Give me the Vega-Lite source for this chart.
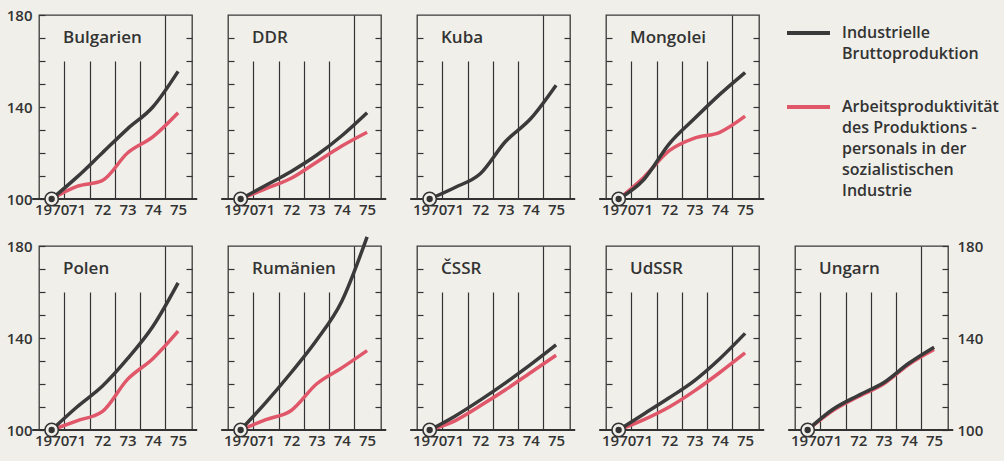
{
"$schema": "https://vega.github.io/schema/vega-lite/v6.json",
"background": "#f0efea",
"padding": {"left": 5, "top": 7, "right": 10, "bottom": 15},
"bounds": "flush",
"columns": 5,
"spacing": {"row": 47, "column": 36},
"datasets": {
"d": [
{"country":"Bulgarien","year":1970,"brutto":100,"arbeit":100},
{"country":"Bulgarien","year":1971,"brutto":109.5,"arbeit":105.5},
{"country":"Bulgarien","year":1972,"brutto":120,"arbeit":108},
{"country":"Bulgarien","year":1973,"brutto":130.5,"arbeit":120},
{"country":"Bulgarien","year":1974,"brutto":140,"arbeit":127},
{"country":"Bulgarien","year":1975,"brutto":155.5,"arbeit":137.5},
{"country":"DDR","year":1970,"brutto":100,"arbeit":100},
{"country":"DDR","year":1971,"brutto":106,"arbeit":104.5},
{"country":"DDR","year":1972,"brutto":112,"arbeit":109},
{"country":"DDR","year":1973,"brutto":119,"arbeit":116},
{"country":"DDR","year":1974,"brutto":127.5,"arbeit":123},
{"country":"DDR","year":1975,"brutto":137.5,"arbeit":129},
{"country":"Kuba","year":1970,"brutto":100,"arbeit":null},
{"country":"Kuba","year":1971,"brutto":105,"arbeit":null},
{"country":"Kuba","year":1972,"brutto":111,"arbeit":null},
{"country":"Kuba","year":1973,"brutto":125,"arbeit":null},
{"country":"Kuba","year":1974,"brutto":135,"arbeit":null},
{"country":"Kuba","year":1975,"brutto":149.5,"arbeit":null},
{"country":"Mongolei","year":1970,"brutto":100,"arbeit":100},
{"country":"Mongolei","year":1971,"brutto":108.5,"arbeit":109.5},
{"country":"Mongolei","year":1972,"brutto":124,"arbeit":121},
{"country":"Mongolei","year":1973,"brutto":135,"arbeit":126.5},
{"country":"Mongolei","year":1974,"brutto":145.5,"arbeit":129},
{"country":"Mongolei","year":1975,"brutto":155,"arbeit":136},
{"country":"Polen","year":1970,"brutto":100,"arbeit":100},
{"country":"Polen","year":1971,"brutto":110,"arbeit":104},
{"country":"Polen","year":1972,"brutto":119,"arbeit":108},
{"country":"Polen","year":1973,"brutto":131,"arbeit":122},
{"country":"Polen","year":1974,"brutto":145,"arbeit":131},
{"country":"Polen","year":1975,"brutto":164,"arbeit":143},
{"country":"Rumänien","year":1970,"brutto":100,"arbeit":100},
{"country":"Rumänien","year":1971,"brutto":112,"arbeit":104.5},
{"country":"Rumänien","year":1972,"brutto":125,"arbeit":108.5},
{"country":"Rumänien","year":1973,"brutto":139,"arbeit":120},
{"country":"Rumänien","year":1974,"brutto":156,"arbeit":127},
{"country":"Rumänien","year":1975,"brutto":184,"arbeit":134.5},
{"country":"ČSSR","year":1970,"brutto":100,"arbeit":100},
{"country":"ČSSR","year":1971,"brutto":106,"arbeit":104},
{"country":"ČSSR","year":1972,"brutto":113,"arbeit":110.5},
{"country":"ČSSR","year":1973,"brutto":120.5,"arbeit":117.5},
{"country":"ČSSR","year":1974,"brutto":128.5,"arbeit":125},
{"country":"ČSSR","year":1975,"brutto":137,"arbeit":132.5},
{"country":"UdSSR","year":1970,"brutto":100,"arbeit":100},
{"country":"UdSSR","year":1971,"brutto":107,"arbeit":104.5},
{"country":"UdSSR","year":1972,"brutto":114,"arbeit":110},
{"country":"UdSSR","year":1973,"brutto":121.5,"arbeit":117},
{"country":"UdSSR","year":1974,"brutto":131,"arbeit":125},
{"country":"UdSSR","year":1975,"brutto":142,"arbeit":133.5},
{"country":"Ungarn","year":1970,"brutto":100,"arbeit":100},
{"country":"Ungarn","year":1971,"brutto":109,"arbeit":108.5},
{"country":"Ungarn","year":1972,"brutto":115,"arbeit":114.5},
{"country":"Ungarn","year":1973,"brutto":120.5,"arbeit":120},
{"country":"Ungarn","year":1974,"brutto":129,"arbeit":128.5},
{"country":"Ungarn","year":1975,"brutto":136,"arbeit":135}
]
},
"data": {"name": "d"},
"concat": [
{"width":153,"height":184,"transform":[{"filter":{"field":"country","equal":"Bulgarien"}}],"layer":[
{"mark":{"type":"rule","color":"#333","strokeWidth":1.3},"encoding":{"x":{"datum":1969.25,"type":"quantitative","scale":{"domain":[1969.5,1975.55],"nice":false,"zero":false},"axis":{"orient":"bottom","values":[1970.5,1971.5,1972.5,1973.5],"offset":-138,"tickSize":138,"labels":false,"title":null}},"x2":{"datum":1975.75},"y":{"datum":100,"type":"quantitative","scale":{"domain":[100,180],"nice":false,"zero":false},"axis":{"orient":"right","values":[110,120,130,140,150,160,170],"offset":-6,"tickSize":6,"labels":false,"title":null}}}},
{"transform":[{"fold":["arbeit","brutto"],"as":["series","value"]},{"filter":"isValid(datum.value)"}],"mark":{"type":"line","strokeWidth":3.5,"interpolate":"monotone"},"encoding":{"x":{"field":"year","type":"quantitative","axis":{"orient":"bottom","values":[1970,1971,1972,1973,1974,1975],"labelExpr":"datum.value == 1970 ? '1970' : '' + (datum.value - 1900)","ticks":false,"labelPadding":3,"title":null}},"y":{"field":"value","type":"quantitative","axis":{"orient":"left","values":[100,110,120,130,140,150,160,170,180],"offset":-6,"tickSize":6,"labelExpr":"datum.value % 40 == 20 ? datum.label : ''","labelPadding":7,"title":null}},"color":{"field":"series","type":"nominal","scale":{"domain":["brutto","arbeit"],"range":["#3a3a3a","#e0576a"]},"legend":null}}},
{"transform":[{"filter":"datum.year == 1970"}],"mark":{"type":"point","shape":"circle","filled":true,"fill":"#f0efea","stroke":"#333","strokeWidth":1.6,"size":180,"opacity":1},"encoding":{"x":{"field":"year","type":"quantitative","axis":{"orient":"bottom","values":[1974.5],"grid":true,"ticks":false,"labels":false,"title":null}},"y":{"field":"brutto","type":"quantitative","axis":null}}},
{"transform":[{"filter":"datum.year == 1970"}],"mark":{"type":"point","shape":"circle","filled":true,"color":"#333","size":40,"opacity":1},"encoding":{"x":{"field":"year","type":"quantitative","axis":null},"y":{"field":"brutto","type":"quantitative","axis":null}}},
{"transform":[{"filter":"datum.year == 1970"}],"mark":{"type":"text","align":"left","baseline":"alphabetic","fontSize":17,"fontWeight":600,"color":"#333"},"encoding":{"x":{"datum":1970.45,"type":"quantitative","axis":null},"y":{"datum":167.8,"type":"quantitative","axis":null},"text":{"field":"country"}}}
],"resolve":{"axis":{"x":"independent","y":"independent"}}},
{"width":153,"height":184,"transform":[{"filter":{"field":"country","equal":"DDR"}}],"layer":[
{"mark":{"type":"rule","color":"#333","strokeWidth":1.3},"encoding":{"x":{"datum":1969.25,"type":"quantitative","scale":{"domain":[1969.5,1975.55],"nice":false,"zero":false},"axis":{"orient":"bottom","values":[1970.5,1971.5,1972.5,1973.5],"offset":-138,"tickSize":138,"labels":false,"title":null}},"x2":{"datum":1975.75},"y":{"datum":100,"type":"quantitative","scale":{"domain":[100,180],"nice":false,"zero":false},"axis":{"orient":"right","values":[110,120,130,140,150,160,170],"offset":-6,"tickSize":6,"labels":false,"title":null}}}},
{"transform":[{"fold":["arbeit","brutto"],"as":["series","value"]},{"filter":"isValid(datum.value)"}],"mark":{"type":"line","strokeWidth":3.5,"interpolate":"monotone"},"encoding":{"x":{"field":"year","type":"quantitative","axis":{"orient":"bottom","values":[1970,1971,1972,1973,1974,1975],"labelExpr":"datum.value == 1970 ? '1970' : '' + (datum.value - 1900)","ticks":false,"labelPadding":3,"title":null}},"y":{"field":"value","type":"quantitative","axis":{"orient":"left","values":[110,120,130,140,150,160,170],"offset":-6,"tickSize":6,"labels":false,"title":null}},"color":{"field":"series","type":"nominal","scale":{"domain":["brutto","arbeit"],"range":["#3a3a3a","#e0576a"]},"legend":null}}},
{"transform":[{"filter":"datum.year == 1970"}],"mark":{"type":"point","shape":"circle","filled":true,"fill":"#f0efea","stroke":"#333","strokeWidth":1.6,"size":180,"opacity":1},"encoding":{"x":{"field":"year","type":"quantitative","axis":{"orient":"bottom","values":[1974.5],"grid":true,"ticks":false,"labels":false,"title":null}},"y":{"field":"brutto","type":"quantitative","axis":null}}},
{"transform":[{"filter":"datum.year == 1970"}],"mark":{"type":"point","shape":"circle","filled":true,"color":"#333","size":40,"opacity":1},"encoding":{"x":{"field":"year","type":"quantitative","axis":null},"y":{"field":"brutto","type":"quantitative","axis":null}}},
{"transform":[{"filter":"datum.year == 1970"}],"mark":{"type":"text","align":"left","baseline":"alphabetic","fontSize":17,"fontWeight":600,"color":"#333"},"encoding":{"x":{"datum":1970.45,"type":"quantitative","axis":null},"y":{"datum":167.8,"type":"quantitative","axis":null},"text":{"field":"country"}}}
],"resolve":{"axis":{"x":"independent","y":"independent"}}},
{"width":153,"height":184,"transform":[{"filter":{"field":"country","equal":"Kuba"}}],"layer":[
{"mark":{"type":"rule","color":"#333","strokeWidth":1.3},"encoding":{"x":{"datum":1969.25,"type":"quantitative","scale":{"domain":[1969.5,1975.55],"nice":false,"zero":false},"axis":{"orient":"bottom","values":[1970.5,1971.5,1972.5,1973.5],"offset":-138,"tickSize":138,"labels":false,"title":null}},"x2":{"datum":1975.75},"y":{"datum":100,"type":"quantitative","scale":{"domain":[100,180],"nice":false,"zero":false},"axis":{"orient":"right","values":[110,120,130,140,150,160,170],"offset":-6,"tickSize":6,"labels":false,"title":null}}}},
{"transform":[{"fold":["arbeit","brutto"],"as":["series","value"]},{"filter":"isValid(datum.value)"}],"mark":{"type":"line","strokeWidth":3.5,"interpolate":"monotone"},"encoding":{"x":{"field":"year","type":"quantitative","axis":{"orient":"bottom","values":[1970,1971,1972,1973,1974,1975],"labelExpr":"datum.value == 1970 ? '1970' : '' + (datum.value - 1900)","ticks":false,"labelPadding":3,"title":null}},"y":{"field":"value","type":"quantitative","axis":{"orient":"left","values":[110,120,130,140,150,160,170],"offset":-6,"tickSize":6,"labels":false,"title":null}},"color":{"field":"series","type":"nominal","scale":{"domain":["brutto","arbeit"],"range":["#3a3a3a","#e0576a"]},"legend":null}}},
{"transform":[{"filter":"datum.year == 1970"}],"mark":{"type":"point","shape":"circle","filled":true,"fill":"#f0efea","stroke":"#333","strokeWidth":1.6,"size":180,"opacity":1},"encoding":{"x":{"field":"year","type":"quantitative","axis":{"orient":"bottom","values":[1974.5],"grid":true,"ticks":false,"labels":false,"title":null}},"y":{"field":"brutto","type":"quantitative","axis":null}}},
{"transform":[{"filter":"datum.year == 1970"}],"mark":{"type":"point","shape":"circle","filled":true,"color":"#333","size":40,"opacity":1},"encoding":{"x":{"field":"year","type":"quantitative","axis":null},"y":{"field":"brutto","type":"quantitative","axis":null}}},
{"transform":[{"filter":"datum.year == 1970"}],"mark":{"type":"text","align":"left","baseline":"alphabetic","fontSize":17,"fontWeight":600,"color":"#333"},"encoding":{"x":{"datum":1970.45,"type":"quantitative","axis":null},"y":{"datum":167.8,"type":"quantitative","axis":null},"text":{"field":"country"}}}
],"resolve":{"axis":{"x":"independent","y":"independent"}}},
{"width":153,"height":184,"transform":[{"filter":{"field":"country","equal":"Mongolei"}}],"layer":[
{"mark":{"type":"rule","color":"#333","strokeWidth":1.3},"encoding":{"x":{"datum":1969.25,"type":"quantitative","scale":{"domain":[1969.5,1975.55],"nice":false,"zero":false},"axis":{"orient":"bottom","values":[1970.5,1971.5,1972.5,1973.5],"offset":-138,"tickSize":138,"labels":false,"title":null}},"x2":{"datum":1975.75},"y":{"datum":100,"type":"quantitative","scale":{"domain":[100,180],"nice":false,"zero":false},"axis":{"orient":"right","values":[110,120,130,140,150,160,170],"offset":-6,"tickSize":6,"labels":false,"title":null}}}},
{"transform":[{"fold":["arbeit","brutto"],"as":["series","value"]},{"filter":"isValid(datum.value)"}],"mark":{"type":"line","strokeWidth":3.5,"interpolate":"monotone"},"encoding":{"x":{"field":"year","type":"quantitative","axis":{"orient":"bottom","values":[1970,1971,1972,1973,1974,1975],"labelExpr":"datum.value == 1970 ? '1970' : '' + (datum.value - 1900)","ticks":false,"labelPadding":3,"title":null}},"y":{"field":"value","type":"quantitative","axis":{"orient":"left","values":[110,120,130,140,150,160,170],"offset":-6,"tickSize":6,"labels":false,"title":null}},"color":{"field":"series","type":"nominal","scale":{"domain":["brutto","arbeit"],"range":["#3a3a3a","#e0576a"]},"legend":null}}},
{"transform":[{"filter":"datum.year == 1970"}],"mark":{"type":"point","shape":"circle","filled":true,"fill":"#f0efea","stroke":"#333","strokeWidth":1.6,"size":180,"opacity":1},"encoding":{"x":{"field":"year","type":"quantitative","axis":{"orient":"bottom","values":[1974.5],"grid":true,"ticks":false,"labels":false,"title":null}},"y":{"field":"brutto","type":"quantitative","axis":null}}},
{"transform":[{"filter":"datum.year == 1970"}],"mark":{"type":"point","shape":"circle","filled":true,"color":"#333","size":40,"opacity":1},"encoding":{"x":{"field":"year","type":"quantitative","axis":null},"y":{"field":"brutto","type":"quantitative","axis":null}}},
{"transform":[{"filter":"datum.year == 1970"}],"mark":{"type":"text","align":"left","baseline":"alphabetic","fontSize":17,"fontWeight":600,"color":"#333"},"encoding":{"x":{"datum":1970.45,"type":"quantitative","axis":null},"y":{"datum":167.8,"type":"quantitative","axis":null},"text":{"field":"country"}}}
],"resolve":{"axis":{"x":"independent","y":"independent"}}},
{"width":153,"height":184,"view":{"stroke":null},
"data":{"values":[
{"series":"brutto","label":"Industrielle\nBruttoproduktion"},
{"series":"arbeit","label":"Arbeitsproduktivität\ndes Produktions -\npersonals in der\nsozialistischen\nIndustrie"}
]},
"layer":[
{"mark":{"type":"rule","strokeWidth":4},"encoding":{"x":{"datum":-8,"type":"quantitative","scale":{"domain":[0,153],"nice":false,"zero":false},"axis":null},"x2":{"datum":35},"y":{"field":"series","type":"nominal","scale":{"type":"point","domain":["brutto","arbeit"],"range":[18,92],"padding":0},"axis":null},"color":{"field":"series","type":"nominal","scale":{"domain":["brutto","arbeit"],"range":["#3a3a3a","#e0576a"]},"legend":null}}},
{"mark":{"type":"text","align":"left","baseline":"top","dy":-8,"lineBreak":"\n","lineHeight":21,"fontSize":16,"fontWeight":600,"color":"#333"},"encoding":{"x":{"datum":47,"type":"quantitative"},"y":{"field":"series","type":"nominal"},"text":{"field":"label"}}}
]},
{"width":153,"height":184,"transform":[{"filter":{"field":"country","equal":"Polen"}}],"layer":[
{"mark":{"type":"rule","color":"#333","strokeWidth":1.3},"encoding":{"x":{"datum":1969.25,"type":"quantitative","scale":{"domain":[1969.5,1975.55],"nice":false,"zero":false},"axis":{"orient":"bottom","values":[1970.5,1971.5,1972.5,1973.5],"offset":-138,"tickSize":138,"labels":false,"title":null}},"x2":{"datum":1975.75},"y":{"datum":100,"type":"quantitative","scale":{"domain":[100,180],"nice":false,"zero":false},"axis":{"orient":"right","values":[110,120,130,140,150,160,170],"offset":-6,"tickSize":6,"labels":false,"title":null}}}},
{"transform":[{"fold":["arbeit","brutto"],"as":["series","value"]},{"filter":"isValid(datum.value)"}],"mark":{"type":"line","strokeWidth":3.5,"interpolate":"monotone"},"encoding":{"x":{"field":"year","type":"quantitative","axis":{"orient":"bottom","values":[1970,1971,1972,1973,1974,1975],"labelExpr":"datum.value == 1970 ? '1970' : '' + (datum.value - 1900)","ticks":false,"labelPadding":3,"title":null}},"y":{"field":"value","type":"quantitative","axis":{"orient":"left","values":[100,110,120,130,140,150,160,170,180],"offset":-6,"tickSize":6,"labelExpr":"datum.value % 40 == 20 ? datum.label : ''","labelPadding":7,"title":null}},"color":{"field":"series","type":"nominal","scale":{"domain":["brutto","arbeit"],"range":["#3a3a3a","#e0576a"]},"legend":null}}},
{"transform":[{"filter":"datum.year == 1970"}],"mark":{"type":"point","shape":"circle","filled":true,"fill":"#f0efea","stroke":"#333","strokeWidth":1.6,"size":180,"opacity":1},"encoding":{"x":{"field":"year","type":"quantitative","axis":{"orient":"bottom","values":[1974.5],"grid":true,"ticks":false,"labels":false,"title":null}},"y":{"field":"brutto","type":"quantitative","axis":null}}},
{"transform":[{"filter":"datum.year == 1970"}],"mark":{"type":"point","shape":"circle","filled":true,"color":"#333","size":40,"opacity":1},"encoding":{"x":{"field":"year","type":"quantitative","axis":null},"y":{"field":"brutto","type":"quantitative","axis":null}}},
{"transform":[{"filter":"datum.year == 1970"}],"mark":{"type":"text","align":"left","baseline":"alphabetic","fontSize":17,"fontWeight":600,"color":"#333"},"encoding":{"x":{"datum":1970.45,"type":"quantitative","axis":null},"y":{"datum":167.8,"type":"quantitative","axis":null},"text":{"field":"country"}}}
],"resolve":{"axis":{"x":"independent","y":"independent"}}},
{"width":153,"height":184,"transform":[{"filter":{"field":"country","equal":"Rumänien"}}],"layer":[
{"mark":{"type":"rule","color":"#333","strokeWidth":1.3},"encoding":{"x":{"datum":1969.25,"type":"quantitative","scale":{"domain":[1969.5,1975.55],"nice":false,"zero":false},"axis":{"orient":"bottom","values":[1970.5,1971.5,1972.5,1973.5],"offset":-138,"tickSize":138,"labels":false,"title":null}},"x2":{"datum":1975.75},"y":{"datum":100,"type":"quantitative","scale":{"domain":[100,180],"nice":false,"zero":false},"axis":{"orient":"right","values":[110,120,130,140,150,160,170],"offset":-6,"tickSize":6,"labels":false,"title":null}}}},
{"transform":[{"fold":["arbeit","brutto"],"as":["series","value"]},{"filter":"isValid(datum.value)"}],"mark":{"type":"line","strokeWidth":3.5,"interpolate":"monotone"},"encoding":{"x":{"field":"year","type":"quantitative","axis":{"orient":"bottom","values":[1970,1971,1972,1973,1974,1975],"labelExpr":"datum.value == 1970 ? '1970' : '' + (datum.value - 1900)","ticks":false,"labelPadding":3,"title":null}},"y":{"field":"value","type":"quantitative","axis":{"orient":"left","values":[110,120,130,140,150,160,170],"offset":-6,"tickSize":6,"labels":false,"title":null}},"color":{"field":"series","type":"nominal","scale":{"domain":["brutto","arbeit"],"range":["#3a3a3a","#e0576a"]},"legend":null}}},
{"transform":[{"filter":"datum.year == 1970"}],"mark":{"type":"point","shape":"circle","filled":true,"fill":"#f0efea","stroke":"#333","strokeWidth":1.6,"size":180,"opacity":1},"encoding":{"x":{"field":"year","type":"quantitative","axis":{"orient":"bottom","values":[1974.5],"grid":true,"ticks":false,"labels":false,"title":null}},"y":{"field":"brutto","type":"quantitative","axis":null}}},
{"transform":[{"filter":"datum.year == 1970"}],"mark":{"type":"point","shape":"circle","filled":true,"color":"#333","size":40,"opacity":1},"encoding":{"x":{"field":"year","type":"quantitative","axis":null},"y":{"field":"brutto","type":"quantitative","axis":null}}},
{"transform":[{"filter":"datum.year == 1970"}],"mark":{"type":"text","align":"left","baseline":"alphabetic","fontSize":17,"fontWeight":600,"color":"#333"},"encoding":{"x":{"datum":1970.45,"type":"quantitative","axis":null},"y":{"datum":167.8,"type":"quantitative","axis":null},"text":{"field":"country"}}}
],"resolve":{"axis":{"x":"independent","y":"independent"}}},
{"width":153,"height":184,"transform":[{"filter":{"field":"country","equal":"ČSSR"}}],"layer":[
{"mark":{"type":"rule","color":"#333","strokeWidth":1.3},"encoding":{"x":{"datum":1969.25,"type":"quantitative","scale":{"domain":[1969.5,1975.55],"nice":false,"zero":false},"axis":{"orient":"bottom","values":[1970.5,1971.5,1972.5,1973.5],"offset":-138,"tickSize":138,"labels":false,"title":null}},"x2":{"datum":1975.75},"y":{"datum":100,"type":"quantitative","scale":{"domain":[100,180],"nice":false,"zero":false},"axis":{"orient":"right","values":[110,120,130,140,150,160,170],"offset":-6,"tickSize":6,"labels":false,"title":null}}}},
{"transform":[{"fold":["arbeit","brutto"],"as":["series","value"]},{"filter":"isValid(datum.value)"}],"mark":{"type":"line","strokeWidth":3.5,"interpolate":"monotone"},"encoding":{"x":{"field":"year","type":"quantitative","axis":{"orient":"bottom","values":[1970,1971,1972,1973,1974,1975],"labelExpr":"datum.value == 1970 ? '1970' : '' + (datum.value - 1900)","ticks":false,"labelPadding":3,"title":null}},"y":{"field":"value","type":"quantitative","axis":{"orient":"left","values":[110,120,130,140,150,160,170],"offset":-6,"tickSize":6,"labels":false,"title":null}},"color":{"field":"series","type":"nominal","scale":{"domain":["brutto","arbeit"],"range":["#3a3a3a","#e0576a"]},"legend":null}}},
{"transform":[{"filter":"datum.year == 1970"}],"mark":{"type":"point","shape":"circle","filled":true,"fill":"#f0efea","stroke":"#333","strokeWidth":1.6,"size":180,"opacity":1},"encoding":{"x":{"field":"year","type":"quantitative","axis":{"orient":"bottom","values":[1974.5],"grid":true,"ticks":false,"labels":false,"title":null}},"y":{"field":"brutto","type":"quantitative","axis":null}}},
{"transform":[{"filter":"datum.year == 1970"}],"mark":{"type":"point","shape":"circle","filled":true,"color":"#333","size":40,"opacity":1},"encoding":{"x":{"field":"year","type":"quantitative","axis":null},"y":{"field":"brutto","type":"quantitative","axis":null}}},
{"transform":[{"filter":"datum.year == 1970"}],"mark":{"type":"text","align":"left","baseline":"alphabetic","fontSize":17,"fontWeight":600,"color":"#333"},"encoding":{"x":{"datum":1970.45,"type":"quantitative","axis":null},"y":{"datum":167.8,"type":"quantitative","axis":null},"text":{"field":"country"}}}
],"resolve":{"axis":{"x":"independent","y":"independent"}}},
{"width":153,"height":184,"transform":[{"filter":{"field":"country","equal":"UdSSR"}}],"layer":[
{"mark":{"type":"rule","color":"#333","strokeWidth":1.3},"encoding":{"x":{"datum":1969.25,"type":"quantitative","scale":{"domain":[1969.5,1975.55],"nice":false,"zero":false},"axis":{"orient":"bottom","values":[1970.5,1971.5,1972.5,1973.5],"offset":-138,"tickSize":138,"labels":false,"title":null}},"x2":{"datum":1975.75},"y":{"datum":100,"type":"quantitative","scale":{"domain":[100,180],"nice":false,"zero":false},"axis":{"orient":"right","values":[110,120,130,140,150,160,170],"offset":-6,"tickSize":6,"labels":false,"title":null}}}},
{"transform":[{"fold":["arbeit","brutto"],"as":["series","value"]},{"filter":"isValid(datum.value)"}],"mark":{"type":"line","strokeWidth":3.5,"interpolate":"monotone"},"encoding":{"x":{"field":"year","type":"quantitative","axis":{"orient":"bottom","values":[1970,1971,1972,1973,1974,1975],"labelExpr":"datum.value == 1970 ? '1970' : '' + (datum.value - 1900)","ticks":false,"labelPadding":3,"title":null}},"y":{"field":"value","type":"quantitative","axis":{"orient":"left","values":[110,120,130,140,150,160,170],"offset":-6,"tickSize":6,"labels":false,"title":null}},"color":{"field":"series","type":"nominal","scale":{"domain":["brutto","arbeit"],"range":["#3a3a3a","#e0576a"]},"legend":null}}},
{"transform":[{"filter":"datum.year == 1970"}],"mark":{"type":"point","shape":"circle","filled":true,"fill":"#f0efea","stroke":"#333","strokeWidth":1.6,"size":180,"opacity":1},"encoding":{"x":{"field":"year","type":"quantitative","axis":{"orient":"bottom","values":[1974.5],"grid":true,"ticks":false,"labels":false,"title":null}},"y":{"field":"brutto","type":"quantitative","axis":null}}},
{"transform":[{"filter":"datum.year == 1970"}],"mark":{"type":"point","shape":"circle","filled":true,"color":"#333","size":40,"opacity":1},"encoding":{"x":{"field":"year","type":"quantitative","axis":null},"y":{"field":"brutto","type":"quantitative","axis":null}}},
{"transform":[{"filter":"datum.year == 1970"}],"mark":{"type":"text","align":"left","baseline":"alphabetic","fontSize":17,"fontWeight":600,"color":"#333"},"encoding":{"x":{"datum":1970.45,"type":"quantitative","axis":null},"y":{"datum":167.8,"type":"quantitative","axis":null},"text":{"field":"country"}}}
],"resolve":{"axis":{"x":"independent","y":"independent"}}},
{"width":153,"height":184,"transform":[{"filter":{"field":"country","equal":"Ungarn"}}],"layer":[
{"mark":{"type":"rule","color":"#333","strokeWidth":1.3},"encoding":{"x":{"datum":1969.25,"type":"quantitative","scale":{"domain":[1969.5,1975.55],"nice":false,"zero":false},"axis":{"orient":"bottom","values":[1970.5,1971.5,1972.5,1973.5],"offset":-138,"tickSize":138,"labels":false,"title":null}},"x2":{"datum":1975.75},"y":{"datum":100,"type":"quantitative","scale":{"domain":[100,180],"nice":false,"zero":false},"axis":{"orient":"right","values":[100,110,120,130,140,150,160,170,180],"offset":-6,"tickSize":6,"labelExpr":"datum.value % 40 == 20 ? datum.label : ''","labelPadding":9,"title":null}}}},
{"transform":[{"fold":["arbeit","brutto"],"as":["series","value"]},{"filter":"isValid(datum.value)"}],"mark":{"type":"line","strokeWidth":3.5,"interpolate":"monotone"},"encoding":{"x":{"field":"year","type":"quantitative","axis":{"orient":"bottom","values":[1970,1971,1972,1973,1974,1975],"labelExpr":"datum.value == 1970 ? '1970' : '' + (datum.value - 1900)","ticks":false,"labelPadding":3,"title":null}},"y":{"field":"value","type":"quantitative","axis":{"orient":"left","values":[110,120,130,140,150,160,170],"offset":-6,"tickSize":6,"labels":false,"title":null}},"color":{"field":"series","type":"nominal","scale":{"domain":["brutto","arbeit"],"range":["#3a3a3a","#e0576a"]},"legend":null}}},
{"transform":[{"filter":"datum.year == 1970"}],"mark":{"type":"point","shape":"circle","filled":true,"fill":"#f0efea","stroke":"#333","strokeWidth":1.6,"size":180,"opacity":1},"encoding":{"x":{"field":"year","type":"quantitative","axis":{"orient":"bottom","values":[1974.5],"grid":true,"ticks":false,"labels":false,"title":null}},"y":{"field":"brutto","type":"quantitative","axis":null}}},
{"transform":[{"filter":"datum.year == 1970"}],"mark":{"type":"point","shape":"circle","filled":true,"color":"#333","size":40,"opacity":1},"encoding":{"x":{"field":"year","type":"quantitative","axis":null},"y":{"field":"brutto","type":"quantitative","axis":null}}},
{"transform":[{"filter":"datum.year == 1970"}],"mark":{"type":"text","align":"left","baseline":"alphabetic","fontSize":17,"fontWeight":600,"color":"#333"},"encoding":{"x":{"datum":1970.45,"type":"quantitative","axis":null},"y":{"datum":167.8,"type":"quantitative","axis":null},"text":{"field":"country"}}}
],"resolve":{"axis":{"x":"independent","y":"independent"}}}
],
"config": {
"font": "Open Sans",
"view": {"stroke": "#3a3a3a", "strokeWidth": 1.3},
"axis": {"labelFont": "Open Sans", "labelFontSize": 15, "labelFontWeight": 600, "labelColor": "#333", "tickColor": "#333", "tickWidth": 1.2, "gridColor": "#333", "gridWidth": 1.2, "gridOpacity": 1, "domain": false, "grid": false, "labelOverlap": false, "labelFlush": false}
}
}
